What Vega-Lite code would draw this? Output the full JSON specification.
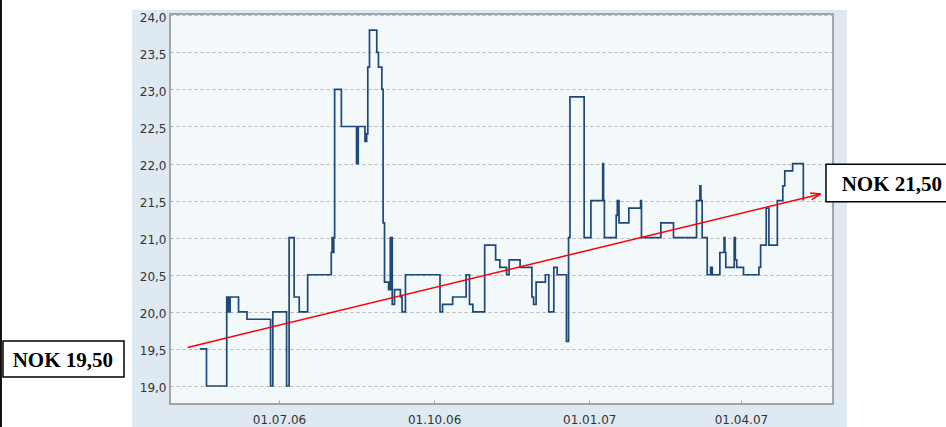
{
  "$schema": "https://vega.github.io/schema/vega-lite/v6.json",
  "width": 663,
  "height": 390,
  "autosize": {"type": "none"},
  "padding": {"left": 170, "top": 14, "right": 113, "bottom": 23},
  "background": "#dfe9f1",
  "config": {
    "view": {"fill": "#f3f8fb", "stroke": "#8c8c8c", "strokeWidth": 1.5}
  },
  "datasets": {
    "prices": [
      {"date": "2006-05-15", "price": 19.5},
      {"date": "2006-05-19", "price": 19.0},
      {"date": "2006-05-31", "price": 20.2},
      {"date": "2006-06-01", "price": 20.0},
      {"date": "2006-06-02", "price": 20.2},
      {"date": "2006-06-07", "price": 20.0},
      {"date": "2006-06-12", "price": 19.9},
      {"date": "2006-06-26", "price": 19.0},
      {"date": "2006-06-27T08:00:00Z", "price": 20.0},
      {"date": "2006-07-05T12:00:00Z", "price": 19.0},
      {"date": "2006-07-07", "price": 21.0},
      {"date": "2006-07-10", "price": 20.2},
      {"date": "2006-07-13", "price": 20.0},
      {"date": "2006-07-18", "price": 20.5},
      {"date": "2006-08-01", "price": 20.8},
      {"date": "2006-08-01T12:00:00Z", "price": 21.0},
      {"date": "2006-08-02", "price": 20.8},
      {"date": "2006-08-02T12:00:00Z", "price": 21.0},
      {"date": "2006-08-03", "price": 23.0},
      {"date": "2006-08-07", "price": 22.5},
      {"date": "2006-08-16", "price": 22.0},
      {"date": "2006-08-17", "price": 22.5},
      {"date": "2006-08-21", "price": 22.3},
      {"date": "2006-08-22", "price": 22.4},
      {"date": "2006-08-22T16:00:00Z", "price": 23.3},
      {"date": "2006-08-23T16:00:00Z", "price": 23.8},
      {"date": "2006-08-28", "price": 23.5},
      {"date": "2006-08-29", "price": 23.3},
      {"date": "2006-08-31", "price": 23.0},
      {"date": "2006-08-31T18:00:00Z", "price": 21.2},
      {"date": "2006-09-01T14:00:00Z", "price": 20.4},
      {"date": "2006-09-04", "price": 20.3},
      {"date": "2006-09-05", "price": 21.0},
      {"date": "2006-09-05T08:00:00Z", "price": 20.3},
      {"date": "2006-09-05T16:00:00Z", "price": 21.0},
      {"date": "2006-09-06T04:00:00Z", "price": 20.1},
      {"date": "2006-09-07T12:00:00Z", "price": 20.3},
      {"date": "2006-09-11", "price": 20.2},
      {"date": "2006-09-12", "price": 20.0},
      {"date": "2006-09-14", "price": 20.5},
      {"date": "2006-10-04T12:00:00Z", "price": 20.0},
      {"date": "2006-10-06", "price": 20.1},
      {"date": "2006-10-12", "price": 20.2},
      {"date": "2006-10-20", "price": 20.5},
      {"date": "2006-10-22", "price": 20.1},
      {"date": "2006-10-24", "price": 20.0},
      {"date": "2006-10-31", "price": 20.9},
      {"date": "2006-11-06T12:00:00Z", "price": 20.7},
      {"date": "2006-11-09", "price": 20.6},
      {"date": "2006-11-13", "price": 20.5},
      {"date": "2006-11-14T12:00:00Z", "price": 20.7},
      {"date": "2006-11-21", "price": 20.6},
      {"date": "2006-11-28", "price": 20.2},
      {"date": "2006-11-29", "price": 20.1},
      {"date": "2006-11-30T12:00:00Z", "price": 20.4},
      {"date": "2006-12-06", "price": 20.5},
      {"date": "2006-12-08", "price": 20.0},
      {"date": "2006-12-11", "price": 20.6},
      {"date": "2006-12-13", "price": 20.5},
      {"date": "2006-12-18T12:00:00Z", "price": 19.6},
      {"date": "2006-12-19T18:00:00Z", "price": 21.0},
      {"date": "2006-12-20T14:00:00Z", "price": 22.9},
      {"date": "2006-12-29", "price": 21.0},
      {"date": "2007-01-02", "price": 21.5},
      {"date": "2007-01-09", "price": 22.0},
      {"date": "2007-01-09T12:00:00Z", "price": 21.5},
      {"date": "2007-01-10", "price": 21.0},
      {"date": "2007-01-17", "price": 21.3},
      {"date": "2007-01-17T16:00:00Z", "price": 21.5},
      {"date": "2007-01-18T16:00:00Z", "price": 21.2},
      {"date": "2007-01-24T12:00:00Z", "price": 21.4},
      {"date": "2007-01-31T12:00:00Z", "price": 21.5},
      {"date": "2007-02-01", "price": 21.0},
      {"date": "2007-02-12T12:00:00Z", "price": 21.2},
      {"date": "2007-02-20", "price": 21.0},
      {"date": "2007-03-05T16:00:00Z", "price": 21.5},
      {"date": "2007-03-07T16:00:00Z", "price": 21.7},
      {"date": "2007-03-08T06:00:00Z", "price": 21.5},
      {"date": "2007-03-09", "price": 21.0},
      {"date": "2007-03-12", "price": 20.5},
      {"date": "2007-03-14", "price": 20.6},
      {"date": "2007-03-15", "price": 20.5},
      {"date": "2007-03-19T12:00:00Z", "price": 20.8},
      {"date": "2007-03-22", "price": 21.0},
      {"date": "2007-03-22T12:00:00Z", "price": 20.8},
      {"date": "2007-03-23", "price": 20.6},
      {"date": "2007-03-28", "price": 21.0},
      {"date": "2007-03-28T16:00:00Z", "price": 20.7},
      {"date": "2007-03-29T12:00:00Z", "price": 20.6},
      {"date": "2007-04-02T12:00:00Z", "price": 20.5},
      {"date": "2007-04-11T16:00:00Z", "price": 20.6},
      {"date": "2007-04-12T16:00:00Z", "price": 20.9},
      {"date": "2007-04-16", "price": 21.4},
      {"date": "2007-04-17T14:00:00Z", "price": 20.9},
      {"date": "2007-04-22T14:00:00Z", "price": 21.5},
      {"date": "2007-04-25T20:00:00Z", "price": 21.7},
      {"date": "2007-04-27", "price": 21.9},
      {"date": "2007-05-01T16:00:00Z", "price": 22.0},
      {"date": "2007-05-08", "price": 21.5}
    ],
    "trend": [
      {"date": "2006-05-07T19:00:00Z", "price": 19.52},
      {"date": "2007-05-18T07:00:00Z", "price": 21.59}
    ]
  },
  "layer": [
    {
      "data": {"name": "prices"},
      "mark": {"type": "line", "interpolate": "step-after", "color": "#1d4878", "strokeWidth": 1.7},
      "encoding": {
        "x": {"field": "date", "type": "temporal",
              "scale": {"type": "utc", "domain": [{"year": 2006, "month": 4, "date": 27, "hours": 8, "minutes": 24, "utc": true}, {"year": 2007, "month": 5, "date": 25, "hours": 14, "minutes": 24, "utc": true}]},
              "axis": {"title": null, "grid": false, "domain": false,
                       "values": [{"year": 2006, "month": 7, "date": 1, "utc": true}, {"year": 2006, "month": 10, "date": 1, "utc": true}, {"year": 2007, "month": 1, "date": 1, "utc": true}, {"year": 2007, "month": 4, "date": 1, "utc": true}],
                       "format": "%d.%m.%y", "ticks": true, "tickSize": -4, "tickColor": "#aaaaaa", "tickWidth": 1,
                       "labelFont": "DejaVu Sans", "labelFontSize": 12, "labelColor": "#333333", "labelPadding": 14, "labelFlush": false, "labelOverlap": false}},
        "y": {"field": "price", "type": "quantitative",
              "scale": {"domain": [18.757, 24.017], "nice": false, "zero": false},
              "axis": {"title": null, "domain": false, "ticks": false, "tickCount": 11,
                       "labelExpr": "replace(format(datum.value, '.1f'), '.', ',')",
                       "grid": true, "gridColor": "#b4b4b4", "gridDash": [3, 3], "gridWidth": 1,
                       "labelFont": "DejaVu Sans", "labelFontSize": 12, "labelColor": "#333333", "labelPadding": 4, "labelOffset": 2, "labelFlush": false, "labelOverlap": false}}
      }
    },
    {
      "data": {"name": "trend"},
      "mark": {"type": "line", "color": "#ff0000", "strokeWidth": 1.5},
      "encoding": {
        "x": {"field": "date", "type": "temporal",
              "scale": {"type": "utc", "domain": [{"year": 2006, "month": 4, "date": 27, "hours": 8, "minutes": 24, "utc": true}, {"year": 2007, "month": 5, "date": 25, "hours": 14, "minutes": 24, "utc": true}]}},
        "y": {"field": "price", "type": "quantitative", "scale": {"domain": [18.757, 24.017], "nice": false, "zero": false}}
      }
    },
    {
      "data": {"values": [{}]},
      "mark": {"type": "point", "shape": "M0,0L-2,-0.7M0,0L-2,0.7", "size": 100, "angle": 346.4, "filled": false, "stroke": "#ff0000", "strokeWidth": 1.5, "opacity": 1},
      "encoding": {
        "x": {"datum": {"year": 2007, "month": 5, "date": 18, "hours": 7, "utc": true}, "type": "temporal",
              "scale": {"type": "utc", "domain": [{"year": 2006, "month": 4, "date": 27, "hours": 8, "minutes": 24, "utc": true}, {"year": 2007, "month": 5, "date": 25, "hours": 14, "minutes": 24, "utc": true}]}},
        "y": {"datum": 21.59, "type": "quantitative", "scale": {"domain": [18.757, 24.017], "nice": false, "zero": false}}
      }
    },
    {
      "data": {"values": [{}]},
      "mark": {"type": "rect", "fill": "white", "stroke": null},
      "encoding": {
        "x": {"datum": {"year": 2006, "month": 1, "date": 7, "utc": true}, "type": "temporal",
              "scale": {"type": "utc", "domain": [{"year": 2006, "month": 4, "date": 27, "hours": 8, "minutes": 24, "utc": true}, {"year": 2007, "month": 5, "date": 25, "hours": 14, "minutes": 24, "utc": true}]}},
        "x2": {"datum": {"year": 2006, "month": 4, "date": 4, "hours": 19, "minutes": 26, "utc": true}},
        "y": {"datum": 24.3, "type": "quantitative", "scale": {"domain": [18.757, 24.017], "nice": false, "zero": false}},
        "y2": {"datum": 18.3}
      }
    },
    {
      "data": {"values": [{}]},
      "mark": {"type": "rect", "fill": "white", "stroke": null},
      "encoding": {
        "x": {"datum": {"year": 2006, "month": 1, "date": 7, "utc": true}, "type": "temporal",
              "scale": {"type": "utc", "domain": [{"year": 2006, "month": 4, "date": 27, "hours": 8, "minutes": 24, "utc": true}, {"year": 2007, "month": 5, "date": 25, "hours": 14, "minutes": 24, "utc": true}]}},
        "x2": {"datum": {"year": 2007, "month": 8, "date": 15, "utc": true}},
        "y": {"datum": 24.3, "type": "quantitative", "scale": {"domain": [18.757, 24.017], "nice": false, "zero": false}},
        "y2": {"datum": 24.0715}
      }
    },
    {
      "data": {"values": [{}]},
      "mark": {"type": "rect", "fill": "white", "stroke": null},
      "encoding": {
        "x": {"datum": {"year": 2007, "month": 6, "date": 2, "hours": 21, "minutes": 22, "utc": true}, "type": "temporal",
              "scale": {"type": "utc", "domain": [{"year": 2006, "month": 4, "date": 27, "hours": 8, "minutes": 24, "utc": true}, {"year": 2007, "month": 5, "date": 25, "hours": 14, "minutes": 24, "utc": true}]}},
        "x2": {"datum": {"year": 2007, "month": 8, "date": 15, "utc": true}},
        "y": {"datum": 24.3, "type": "quantitative", "scale": {"domain": [18.757, 24.017], "nice": false, "zero": false}},
        "y2": {"datum": 18.3}
      }
    },
    {
      "data": {"values": [{}]},
      "mark": {"type": "rule", "color": "#111111", "strokeWidth": 2.3},
      "encoding": {
        "x": {"datum": {"year": 2006, "month": 1, "date": 17, "utc": true}, "type": "temporal",
              "scale": {"type": "utc", "domain": [{"year": 2006, "month": 4, "date": 27, "hours": 8, "minutes": 24, "utc": true}, {"year": 2007, "month": 5, "date": 25, "hours": 14, "minutes": 24, "utc": true}]}},
        "y": {"datum": 24.3, "type": "quantitative", "scale": {"domain": [18.757, 24.017], "nice": false, "zero": false}},
        "y2": {"datum": 18.3}
      }
    },
    {
      "data": {"values": [{}]},
      "mark": {"type": "rect", "fill": "white", "stroke": "black", "strokeWidth": 1.5},
      "encoding": {
        "x": {"datum": {"year": 2006, "month": 1, "date": 18, "hours": 7, "minutes": 12, "utc": true}, "type": "temporal",
              "scale": {"type": "utc", "domain": [{"year": 2006, "month": 4, "date": 27, "hours": 8, "minutes": 24, "utc": true}, {"year": 2007, "month": 5, "date": 25, "hours": 14, "minutes": 24, "utc": true}]}},
        "x2": {"datum": {"year": 2006, "month": 3, "date": 31, "hours": 1, "minutes": 40, "utc": true}},
        "y": {"datum": 19.607, "type": "quantitative", "scale": {"domain": [18.757, 24.017], "nice": false, "zero": false}},
        "y2": {"datum": 19.121}
      }
    },
    {
      "data": {"values": [{}]},
      "mark": {"type": "text", "font": "Liberation Serif", "fontWeight": "bold", "fontSize": 21, "align": "left", "baseline": "alphabetic", "color": "black"},
      "encoding": {
        "text": {"value": "NOK 19,50"},
        "x": {"datum": {"year": 2006, "month": 1, "date": 24, "hours": 1, "utc": true}, "type": "temporal",
              "scale": {"type": "utc", "domain": [{"year": 2006, "month": 4, "date": 27, "hours": 8, "minutes": 24, "utc": true}, {"year": 2007, "month": 5, "date": 25, "hours": 14, "minutes": 24, "utc": true}]}},
        "y": {"datum": 19.26, "type": "quantitative", "scale": {"domain": [18.757, 24.017], "nice": false, "zero": false}}
      }
    },
    {
      "data": {"values": [{}]},
      "mark": {"type": "rect", "fill": "white", "stroke": "black", "strokeWidth": 1.5},
      "encoding": {
        "x": {"datum": {"year": 2007, "month": 5, "date": 21, "hours": 10, "minutes": 34, "utc": true}, "type": "temporal",
              "scale": {"type": "utc", "domain": [{"year": 2006, "month": 4, "date": 27, "hours": 8, "minutes": 24, "utc": true}, {"year": 2007, "month": 5, "date": 25, "hours": 14, "minutes": 24, "utc": true}]}},
        "x2": {"datum": {"year": 2007, "month": 8, "date": 15, "utc": true}},
        "y": {"datum": 21.99, "type": "quantitative", "scale": {"domain": [18.757, 24.017], "nice": false, "zero": false}},
        "y2": {"datum": 21.486}
      }
    },
    {
      "data": {"values": [{}]},
      "mark": {"type": "text", "font": "Liberation Serif", "fontWeight": "bold", "fontSize": 21, "align": "left", "baseline": "alphabetic", "color": "black"},
      "encoding": {
        "text": {"value": "NOK 21,50"},
        "x": {"datum": {"year": 2007, "month": 5, "date": 30, "hours": 18, "utc": true}, "type": "temporal",
              "scale": {"type": "utc", "domain": [{"year": 2006, "month": 4, "date": 27, "hours": 8, "minutes": 24, "utc": true}, {"year": 2007, "month": 5, "date": 25, "hours": 14, "minutes": 24, "utc": true}]}},
        "y": {"datum": 21.634, "type": "quantitative", "scale": {"domain": [18.757, 24.017], "nice": false, "zero": false}}
      }
    }
  ]
}
